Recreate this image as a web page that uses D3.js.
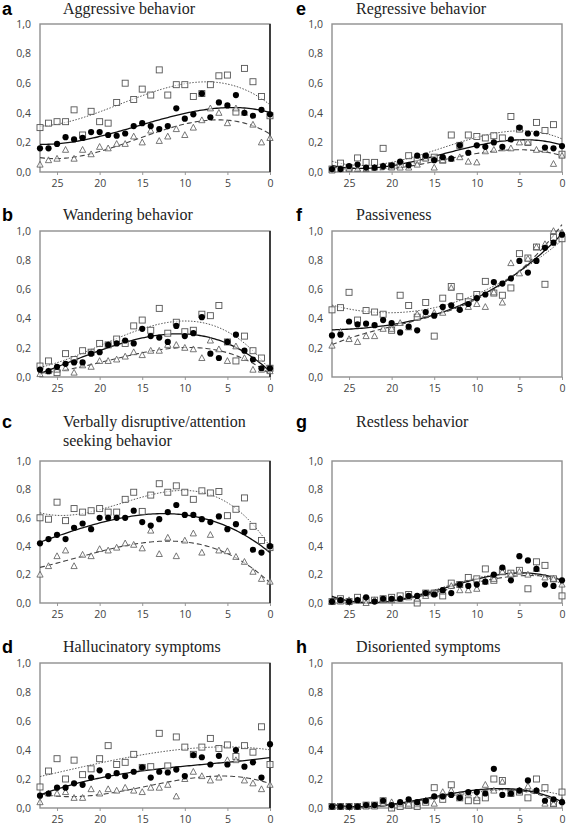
<!DOCTYPE html>
<html><head><meta charset="utf-8">
<script src="https://cdn.jsdelivr.net/npm/d3@7"></script>
<style>body{margin:0;background:#fff}svg{display:block}
.ttl{font-family:"Liberation Serif","Times New Roman",serif;}
.lbl{font-family:"Liberation Sans",Arial,sans-serif;font-weight:bold;}
.tk text{font-family:"Open Sans","Noto Sans",sans-serif;}
</style>
</head><body><svg id="c" width="567" height="828"></svg>
<script>
const timeSteps = [27,26,25,24,23,22,21,20,19,18,17,16,15,14,13,12,11,10,9,8,7,6,5,4,3,2,1,0];
const xTicks = [25,20,15,10,5,0];
const yTicks = [0,0.2,0.4,0.6,0.8,1.0];

// a Aggressive behavior
const aggSquares  = [0.30,0.33,0.34,0.34,0.42,0.25,0.41,0.34,0.33,0.47,0.60,0.49,0.56,0.52,0.69,0.52,0.59,0.59,0.51,0.53,0.59,0.65,0.655,0.405,0.70,0.61,0.51,0.38];
const aggCircles  = [0.16,0.16,0.19,0.235,0.22,0.23,0.27,0.27,0.25,0.245,0.26,0.31,0.33,0.31,0.29,0.31,0.43,0.36,0.39,0.53,0.37,0.47,0.45,0.52,0.40,0.38,0.42,0.39];
const aggTriangles= [0.05,0.08,0.09,0.15,0.09,0.15,0.12,0.17,0.16,0.19,0.19,0.24,0.20,0.28,0.21,0.24,0.29,0.25,0.30,0.35,0.43,0.40,0.33,0.43,0.40,0.32,0.20,0.23];
// b Wandering behavior
const wanSquares  = [0.075,0.11,0.03,0.16,0.12,0.18,0.17,0.23,0.22,0.26,0.23,0.35,0.39,0.32,0.47,0.30,0.375,0.31,0.32,0.43,0.42,0.49,0.24,0.11,0.28,0.18,0.13,0.06];
const wanCircles  = [0.05,0.04,0.07,0.09,0.10,0.10,0.16,0.17,0.22,0.23,0.25,0.23,0.33,0.28,0.27,0.24,0.35,0.28,0.30,0.41,0.16,0.13,0.24,0.29,0.18,0.12,0.06,0.06];
const wanTriangles= [0.02,0.04,0.05,0.06,0.03,0.08,0.07,0.11,0.11,0.12,0.14,0.17,0.15,0.18,0.18,0.22,0.22,0.20,0.19,0.13,0.25,0.19,0.11,0.21,0.13,0.05,0.05,0.04];
// c Verbally disruptive
const verSquares  = [0.60,0.59,0.71,0.58,0.665,0.64,0.65,0.665,0.64,0.64,0.73,0.78,0.645,0.76,0.84,0.78,0.825,0.78,0.73,0.79,0.775,0.785,0.615,0.66,0.74,0.54,0.44,0.39];
const verCircles  = [0.42,0.45,0.48,0.45,0.53,0.56,0.52,0.60,0.60,0.60,0.60,0.65,0.57,0.545,0.59,0.64,0.69,0.62,0.62,0.59,0.57,0.61,0.52,0.555,0.50,0.375,0.355,0.40];
const verTriangles= [0.20,0.26,0.33,0.37,0.26,0.34,0.33,0.38,0.37,0.39,0.42,0.41,0.385,0.51,0.345,0.46,0.33,0.44,0.49,0.355,0.48,0.37,0.365,0.325,0.29,0.22,0.17,0.15];
// d Hallucinatory symptoms
const halSquares  = [0.145,0.255,0.34,0.20,0.33,0.23,0.27,0.34,0.43,0.30,0.315,0.37,0.28,0.285,0.515,0.29,0.49,0.42,0.37,0.42,0.48,0.41,0.435,0.355,0.43,0.385,0.56,0.30];
const halCircles  = [0.085,0.10,0.14,0.14,0.17,0.16,0.21,0.26,0.22,0.24,0.22,0.25,0.28,0.21,0.25,0.245,0.265,0.22,0.365,0.35,0.30,0.36,0.30,0.40,0.285,0.315,0.21,0.44];
const halTriangles= [0.04,0.10,0.10,0.11,0.07,0.07,0.13,0.10,0.13,0.12,0.14,0.12,0.11,0.14,0.14,0.16,0.08,0.20,0.25,0.22,0.19,0.21,0.33,0.33,0.19,0.17,0.13,0.16];
// e Regressive behavior
const regSquares  = [0.02,0.06,0.03,0.095,0.065,0.065,0.16,0.04,0.05,0.11,0.08,0.10,0.10,0.08,0.25,0.18,0.25,0.24,0.23,0.245,0.23,0.375,0.29,0.20,0.335,0.28,0.32,0.12];
const regCircles  = [0.02,0.02,0.04,0.05,0.03,0.03,0.04,0.045,0.07,0.045,0.11,0.11,0.08,0.10,0.09,0.18,0.13,0.18,0.17,0.20,0.17,0.22,0.30,0.26,0.26,0.165,0.16,0.175];
const regTriangles= [0.01,0.02,0.02,0.02,0.02,0.03,0.04,0.03,0.03,0.03,0.05,0.09,0.03,0.08,0.09,0.10,0.07,0.065,0.14,0.15,0.16,0.16,0.20,0.20,0.15,0.15,0.055,0.11];
// f Passiveness
const pasSquares  = [0.46,0.475,0.58,0.39,0.455,0.445,0.43,0.32,0.56,0.49,0.41,0.51,0.28,0.54,0.62,0.55,0.515,0.565,0.655,0.575,0.56,0.61,0.845,0.815,0.89,0.635,0.955,0.947];
const pasCircles  = [0.285,0.29,0.38,0.36,0.365,0.355,0.39,0.37,0.305,0.345,0.32,0.445,0.42,0.48,0.49,0.46,0.50,0.54,0.565,0.65,0.64,0.675,0.795,0.715,0.795,0.885,0.92,0.975];
const pasTriangles= [0.215,0.31,0.26,0.24,0.28,0.28,0.33,0.33,0.37,0.34,0.43,0.43,0.44,0.44,0.61,0.47,0.48,0.50,0.48,0.58,0.51,0.78,0.71,0.81,0.89,0.91,1.00,0.99];
// g Restless behavior
const resSquares  = [0.01,0.03,0.01,0.04,0.02,0.02,0.03,0.04,0.05,0.06,0.00,0.07,0.07,0.05,0.14,0.13,0.18,0.17,0.24,0.16,0.22,0.21,0.23,0.10,0.29,0.265,0.17,0.05];
const resCircles  = [0.01,0.02,0.01,0.02,0.04,0.01,0.03,0.03,0.03,0.05,0.05,0.07,0.06,0.09,0.07,0.13,0.12,0.13,0.15,0.20,0.25,0.16,0.33,0.30,0.24,0.13,0.12,0.16];
const resTriangles= [0.01,0.01,0.02,0.02,0.00,0.02,0.02,0.02,0.03,0.04,0.03,0.05,0.07,0.08,0.12,0.09,0.09,0.10,0.15,0.17,0.22,0.20,0.22,0.20,0.24,0.18,0.17,0.13];
// h Disoriented symptoms
const disSquares  = [0.01,0.01,0.01,0.01,0.02,0.02,0.05,0.00,0.01,0.02,0.01,0.04,0.14,0.06,0.16,0.07,0.05,0.05,0.07,0.20,0.19,0.10,0.11,0.07,0.20,0.14,0.03,0.11];
const disCircles  = [0.01,0.01,0.01,0.01,0.02,0.02,0.05,0.02,0.04,0.06,0.04,0.05,0.08,0.08,0.09,0.07,0.11,0.11,0.10,0.27,0.09,0.10,0.12,0.19,0.12,0.05,0.06,0.04];
const disTriangles= [0.01,0.01,0.01,0.01,0.01,0.01,0.03,0.04,0.03,0.03,0.03,0.05,0.03,0.11,0.12,0.08,0.10,0.07,0.16,0.12,0.18,0.10,0.12,0.15,0.12,0.03,0.03,0.05];

const panelLetters = ["a","b","c","d","e","f","g","h"];
const panelTitles = [["Aggressive behavior"],["Wandering behavior"],["Verbally disruptive/attention","seeking behavior"],["Hallucinatory symptoms"],
  ["Regressive behavior"],["Passiveness"],["Restless behavior"],["Disoriented symptoms"]];
const panelSeries = [
  [aggSquares,aggCircles,aggTriangles],[wanSquares,wanCircles,wanTriangles],[verSquares,verCircles,verTriangles],[halSquares,halCircles,halTriangles],
  [regSquares,regCircles,regTriangles],[pasSquares,pasCircles,pasTriangles],[resSquares,resCircles,resTriangles],[disSquares,disCircles,disTriangles]];

// layout (pixel boxes)
const colX = [[40,270],[332,562]];
const rowY = [[24,172],[231,377],[461,603],[663,808]];
const rowTitleBase = [14,220,427,652];
const colTitleX = [63,356];
const colLetterX = [2,296];

function cubicFit(xs, ys){
  const n=4, A=[...Array(n)].map(()=>Array(n+1).fill(0));
  xs.forEach((x0,i)=>{const x=(x0-13.5)/13.5;const p=[1,x,x*x,x*x*x];
    for(let r=0;r<n;r++){for(let c=0;c<n;c++)A[r][c]+=p[r]*p[c];A[r][n]+=p[r]*ys[i];}});
  for(let i=0;i<n;i++){let m=i;for(let k=i+1;k<n;k++)if(Math.abs(A[k][i])>Math.abs(A[m][i]))m=k;[A[i],A[m]]=[A[m],A[i]];
    for(let k=0;k<n;k++){if(k===i)continue;const f=A[k][i]/A[i][i];for(let c=i;c<=n;c++)A[k][c]-=f*A[i][c];}}
  const co=A.map((r,i)=>r[n]/r[i]);
  return x0=>{const x=(x0-13.5)/13.5;return co[0]+co[1]*x+co[2]*x*x+co[3]*x*x*x;};
}

const svg = d3.select("#c");
const lineStyles = [{stroke:"#555",w:1,dash:"1.5,1.5"},{stroke:"#111",w:1.3,dash:null},{stroke:"#444",w:1.1,dash:"5,3"}];

panelSeries.forEach((series,pi)=>{
  const col = Math.floor(pi/4), row = pi%4;
  const [x0,x1]=colX[col], [y0,y1]=rowY[row];
  const x = d3.scaleLinear().domain([27,0]).range([x0,x1]);
  const y = d3.scaleLinear().domain([0,1]).range([y1,y0]);
  const g = svg.append("g");

  g.append("text").attr("class","lbl").attr("x",colLetterX[col]).attr("y",rowTitleBase[row]+1)
    .attr("font-size",18).text(panelLetters[pi]);
  panelTitles[pi].forEach((t,li)=>g.append("text").attr("class","ttl").attr("x",colTitleX[col]).attr("y",rowTitleBase[row]+li*19)
    .attr("font-size",16).attr("fill","#222").text(t));

  // axes
  const ya = g.append("g").attr("class","tk").attr("transform",`translate(${x0},0)`).call(d3.axisLeft(y).tickValues(yTicks).tickSize(0).tickPadding(9)
     .tickFormat(d=>d3.format(".1f")(d).replace(".",",")));
  const xa = g.append("g").attr("class","tk").attr("transform",`translate(0,${y1})`).call(d3.axisBottom(x).tickValues(xTicks).tickSize(3).tickPadding(5));
  [ya,xa].forEach(a=>{a.select(".domain").remove();a.selectAll("text").attr("font-size",10.5).attr("fill","#444");});
  xa.selectAll("line").attr("stroke","#999");

  g.append("rect").attr("x",x0).attr("y",y0).attr("width",x1-x0).attr("height",y1-y0)
    .attr("fill","none").attr("stroke","#8f8f8f").attr("stroke-width",1.4);
  if(col===0) g.append("line").attr("x1",x1).attr("x2",x1).attr("y1",y0).attr("y2",y1).attr("stroke","#222").attr("stroke-width",1.6);

  const fine = d3.range(27,-0.01,-0.25);
  series.forEach((vals,si)=>{
    const f = cubicFit(timeSteps, vals);
    const st = lineStyles[si];
    g.append("path").attr("d",d3.line().x(d=>x(d)).y(d=>y(f(d))).curve(d3.curveLinear)(fine))
      .attr("fill","none").attr("stroke",st.stroke).attr("stroke-width",st.w).attr("stroke-dasharray",st.dash);
  });
  const sq = series[0], ci = series[1], tr = series[2];
  g.selectAll(".sq").data(timeSteps).join("rect").attr("x",(d)=>x(d)-3).attr("y",(d,i)=>y(sq[i])-3)
    .attr("width",6).attr("height",6).attr("fill","#fff").attr("fill-opacity",0.6).attr("stroke","#555").attr("stroke-width",0.9);
  g.selectAll(".tr").data(timeSteps).join("path").attr("transform",(d,i)=>`translate(${x(d)},${y(tr[i])})`)
    .attr("d","M0,-3.3L3.1,2.5L-3.1,2.5Z").attr("fill","#fff").attr("fill-opacity",0.6).attr("stroke","#555").attr("stroke-width",0.8);
  g.selectAll(".ci").data(timeSteps).join("circle").attr("cx",d=>x(d)).attr("cy",(d,i)=>y(ci[i])).attr("r",3.1).attr("fill","#000");
});
</script></body></html>
